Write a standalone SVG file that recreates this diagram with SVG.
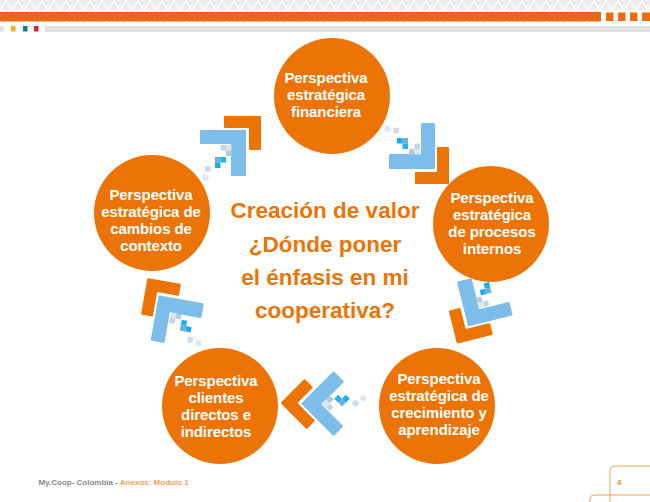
<svg xmlns="http://www.w3.org/2000/svg" xmlns:xlink="http://www.w3.org/1999/xlink" width="650" height="502" viewBox="0 0 650 502">
<style>
.node circle{fill:#EC7406}
.node text{font-family:"Liberation Sans",Arial,sans-serif;font-weight:bold;font-size:15px;fill:#fff;text-anchor:middle;letter-spacing:-0.1px}
.center text{font-family:"Liberation Sans",Arial,sans-serif;font-weight:bold;font-size:22.5px;fill:#EC7406;text-anchor:middle}
.or{fill:#EC7406;stroke:#EC7406;stroke-width:2;stroke-linejoin:round}
.bl{fill:#7DBDE9;stroke:#7DBDE9;stroke-width:2;stroke-linejoin:round}
.foot{font-family:"Liberation Sans",Arial,sans-serif;font-weight:bold;font-size:8px}
</style>
<defs>
<pattern id="zig" width="12" height="10" patternUnits="userSpaceOnUse">
<rect width="12" height="10" fill="#ECECEC"/>
<polyline points="0,10 6,1 12,10" fill="none" stroke="#fff" stroke-width="1.2"/>
<polyline points="-3,10 0,5.5 3,10" fill="none" stroke="#fff" stroke-width="0.8"/>
<polyline points="9,10 12,5.5 15,10" fill="none" stroke="#fff" stroke-width="0.8"/>
</pattern>
<pattern id="hatch" width="5" height="5" patternUnits="userSpaceOnUse">
<rect width="5" height="5" fill="#F06A1C"/>
<path d="M0,5 L5,0" stroke="#E85A12" stroke-width="1.5"/>
</pattern>
<g id="arrow">
<path class="or" d="M-13,-29 H22 V3 H12 V-19 H-13 Z"/>
<path class="bl" d="M-37,-15 H7 V29 H-6 V-3 H-37 Z"/>
<rect x="-17.5" y="-1" width="5.5" height="5.5" fill="#C6D5E4"/>
<rect x="-12" y="-1" width="5.5" height="5.5" fill="#DCE6F0"/>
<rect x="-12" y="4.5" width="5.5" height="5.5" fill="#B6CADB"/>
<rect x="-23" y="11" width="5.5" height="5.5" fill="#6AB0E2"/>
<rect x="-17.5" y="11" width="5.5" height="5.5" fill="#1EB4EC"/>
<rect x="-23" y="16.5" width="5.5" height="5.5" fill="#1AAEE8"/>
<rect x="-33" y="20" width="5.5" height="5.5" fill="#C8DDF2"/>
<rect x="-35" y="29" width="5.5" height="5.5" fill="#DCE8F5"/>
</g>
</defs>
<rect width="650" height="502" fill="#fff"/>
<g id="header">
<rect x="0" y="0" width="650" height="10" fill="url(#zig)"/>
<rect x="0" y="12" width="601" height="9.5" fill="url(#hatch)"/>
<rect x="606" y="12.5" width="7.5" height="8.5" fill="#EE6B0E"/>
<rect x="618" y="12.5" width="7.5" height="8.5" fill="#EE6B0E"/>
<rect x="630" y="12.5" width="7.5" height="8.5" fill="#EE6B0E"/>
<rect x="642" y="12.5" width="8" height="8.5" fill="#EE6B0E"/>
<rect x="0" y="26" width="4" height="5.5" fill="#E2E2E2"/>
<rect x="11" y="26" width="4.5" height="5.5" fill="#F7B500"/>
<rect x="23" y="26" width="4.5" height="5.5" fill="#13799C"/>
<rect x="34" y="26" width="4.5" height="5.5" fill="#D8222A"/>
<rect x="45" y="26" width="605" height="6" fill="#E2E2E2"/>
</g>
<g id="connectors">
<use xlink:href="#arrow" transform="translate(238,146)"/>
<use xlink:href="#arrow" transform="translate(419,161) rotate(90)"/>
<use xlink:href="#arrow" transform="translate(472,309) rotate(166)"/>
<use xlink:href="#arrow" transform="translate(318,398) rotate(225)"/>
<use xlink:href="#arrow" transform="translate(173,306) rotate(280)"/>
</g>
<g id="n-financiera" class="node">
<circle cx="332" cy="96" r="58"/>
<text x="326" y="83">Perspectiva</text>
<text x="326" y="100">estratégica</text>
<text x="326" y="117">financiera</text>
</g>
<g id="n-procesos" class="node">
<circle cx="491" cy="224" r="58"/>
<text x="492" y="203">Perspectiva</text>
<text x="492" y="220">estratégica</text>
<text x="492" y="237">de procesos</text>
<text x="492" y="254">internos</text>
</g>
<g id="n-crecimiento" class="node">
<circle cx="437" cy="406" r="58"/>
<text x="439" y="384">Perspectiva</text>
<text x="439" y="401">estratégica de</text>
<text x="439" y="418">crecimiento y</text>
<text x="439" y="435">aprendizaje</text>
</g>
<g id="n-clientes" class="node">
<circle cx="220" cy="406" r="58"/>
<text x="216" y="386">Perspectiva</text>
<text x="216" y="403">clientes</text>
<text x="216" y="420">directos e</text>
<text x="216" y="437">indirectos</text>
</g>
<g id="n-contexto" class="node">
<circle cx="152" cy="213" r="58"/>
<text x="151" y="200">Perspectiva</text>
<text x="151" y="217">estratégica de</text>
<text x="151" y="234">cambios de</text>
<text x="151" y="251">contexto</text>
</g>
<g id="center" class="center">
<text x="325" y="218">Creación de valor</text>
<text x="325" y="252">¿Dónde poner</text>
<text x="325" y="285">el énfasis en mi</text>
<text x="325" y="318">cooperativa?</text>
</g>
<g id="footer">
<text class="foot" x="38.5" y="485" fill="#8A8A8A">My.Coop- Colombia - <tspan fill="#F5A05A">Anexos: Modulo 1</tspan></text>
<path d="M610,502 V471 Q610,466 615,466 H650" fill="none" stroke="#F5A05A" stroke-width="1"/>
<path d="M590,502 V499 Q590,495 594,495 H650" fill="none" stroke="#F5A05A" stroke-width="1"/>
<text class="foot" x="617" y="485" fill="#EC8A3A" font-weight="normal" font-size="9">4</text>
</g>
</svg>
